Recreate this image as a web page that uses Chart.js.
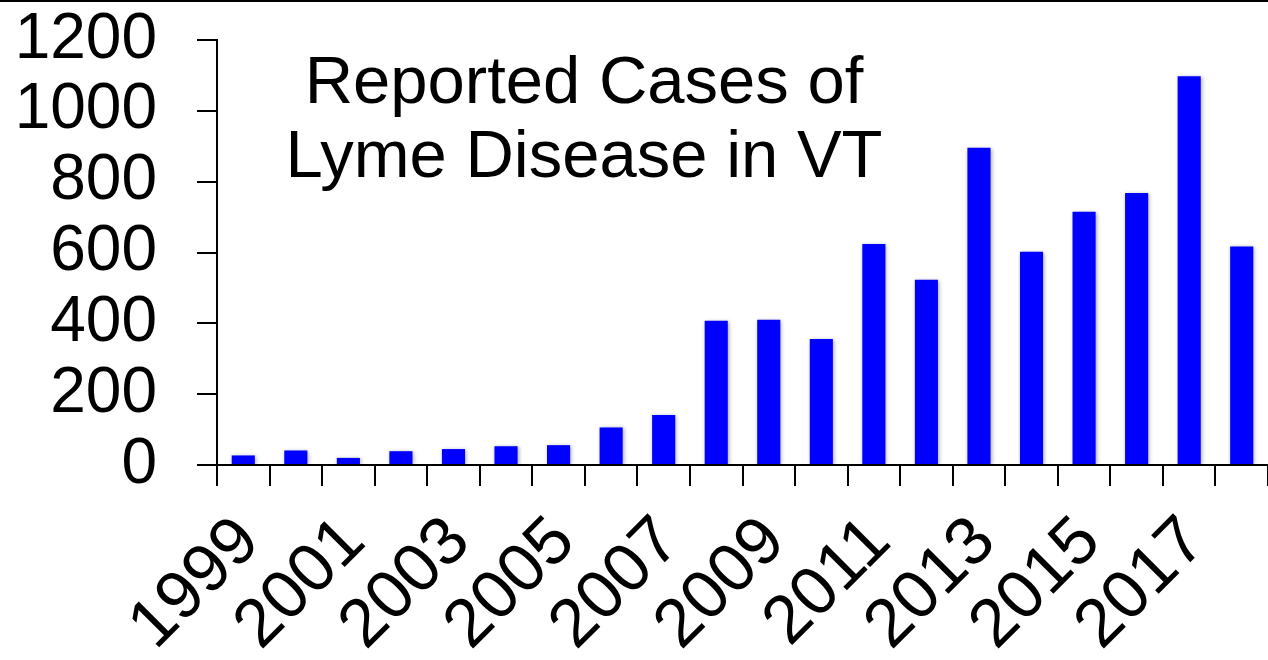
<!DOCTYPE html>
<html>
<head>
<meta charset="utf-8">
<script src="https://cdn.jsdelivr.net/npm/chart.js@4.4.1/dist/chart.umd.min.js"></script>
<style>
    html, body { margin: 0; padding: 0; background: #fff; }
    #wrap { width: 1268px; height: 660px; position: relative; }
</style>
</head>
<body>
<div id="wrap"><canvas id="lyme"></canvas></div>
<script>
// Reported Lyme disease cases in Vermont
var years = ['1999', '2000', '2001', '2002', '2003', '2004', '2005', '2006', '2007', '2008',
             '2009', '2010', '2011', '2012', '2013', '2014', '2015', '2016', '2017', '2018'];
var cases = [27, 41, 20, 39, 45, 53, 56, 106, 141, 407,
             410, 356, 624, 523, 896, 602, 715, 768, 1098, 617];
var yTicks = [0, 200, 400, 600, 800, 1000, 1200];
var titleLines = ['Reported Cases of', 'Lyme Disease in VT'];

var FONT = '"Liberation Sans", Arial, sans-serif';

// title inside the plot + the black rule along the top edge
var decorations = {
    id: 'decorations',
    beforeDatasetsDraw: function(chart) {
        var ctx = chart.ctx;
        ctx.save();
        ctx.fillStyle = '#000';
        ctx.fillRect(0, 0, chart.width, 2);
        ctx.restore();
    },
    beforeDatasetDraw: function(chart) {
        var ctx = chart.ctx;
        ctx.save();
        ctx.shadowColor = 'rgba(0, 0, 0, 0.35)';
        ctx.shadowBlur = 4;
        ctx.shadowOffsetX = 1;
        ctx.shadowOffsetY = 1;
    },
    afterDatasetDraw: function(chart) {
        chart.ctx.restore();
    },
    afterDraw: function(chart) {
        var ctx = chart.ctx;
        ctx.save();
        ctx.fillStyle = '#000';
        ctx.font = '67px ' + FONT;
        ctx.textAlign = 'center';
        ctx.textBaseline = 'alphabetic';
        ctx.fillText(titleLines[0], 584, 103);
        ctx.fillText(titleLines[1], 584, 177);
        ctx.restore();
    }
};

new Chart(document.getElementById('lyme'), {
    type: 'bar',
    data: {
        labels: years,
        datasets: [{
            data: cases,
            backgroundColor: '#0000ff',
            borderWidth: 0,
            categoryPercentage: 1.0,
            barPercentage: 0.44
        }]
    },
    options: {
        responsive: true,
        maintainAspectRatio: false,
        animation: false,
        layout: {
            padding: { top: 40, right: 0, left: 0, bottom: 0 }
        },
        plugins: {
            legend: { display: false },
            tooltip: { enabled: false }
        },
        scales: {
            x: {
                grid: {
                    display: true,
                    drawOnChartArea: false,
                    drawTicks: true,
                    tickLength: 21,
                    color: '#000',
                    lineWidth: 2
                },
                border: { display: true, color: '#000', width: 2 },
                ticks: {
                    autoSkip: false,
                    minRotation: 45,
                    maxRotation: 45,
                    padding: 16,
                    labelOffset: 6,
                    color: '#000',
                    font: { family: FONT, size: 68 },
                    callback: function(value, index) {
                        return index % 2 === 0 ? years[index] : '';
                    }
                },
                afterFit: function(scale) {
                    scale.height = 195;
                    scale.paddingLeft = 0;
                    scale.paddingRight = 0;
                }
            },
            y: {
                min: 0,
                max: 1200,
                grid: {
                    display: true,
                    drawOnChartArea: false,
                    drawTicks: true,
                    tickLength: 20,
                    color: '#000',
                    lineWidth: 2
                },
                border: { display: true, color: '#000', width: 2 },
                ticks: {
                    autoSkip: false,
                    padding: 40,
                    color: '#000',
                    font: { family: FONT, size: 64 },
                    callback: function(value) {
                        return String(value);
                    }
                },
                afterBuildTicks: function(scale) {
                    scale.ticks = yTicks.map(function(v) { return { value: v }; });
                },
                afterFit: function(scale) {
                    scale.width = 217;
                    scale.paddingTop = 0;
                    scale.paddingBottom = 0;
                }
            }
        }
    },
    plugins: [decorations]
});
</script>
</body>
</html>
